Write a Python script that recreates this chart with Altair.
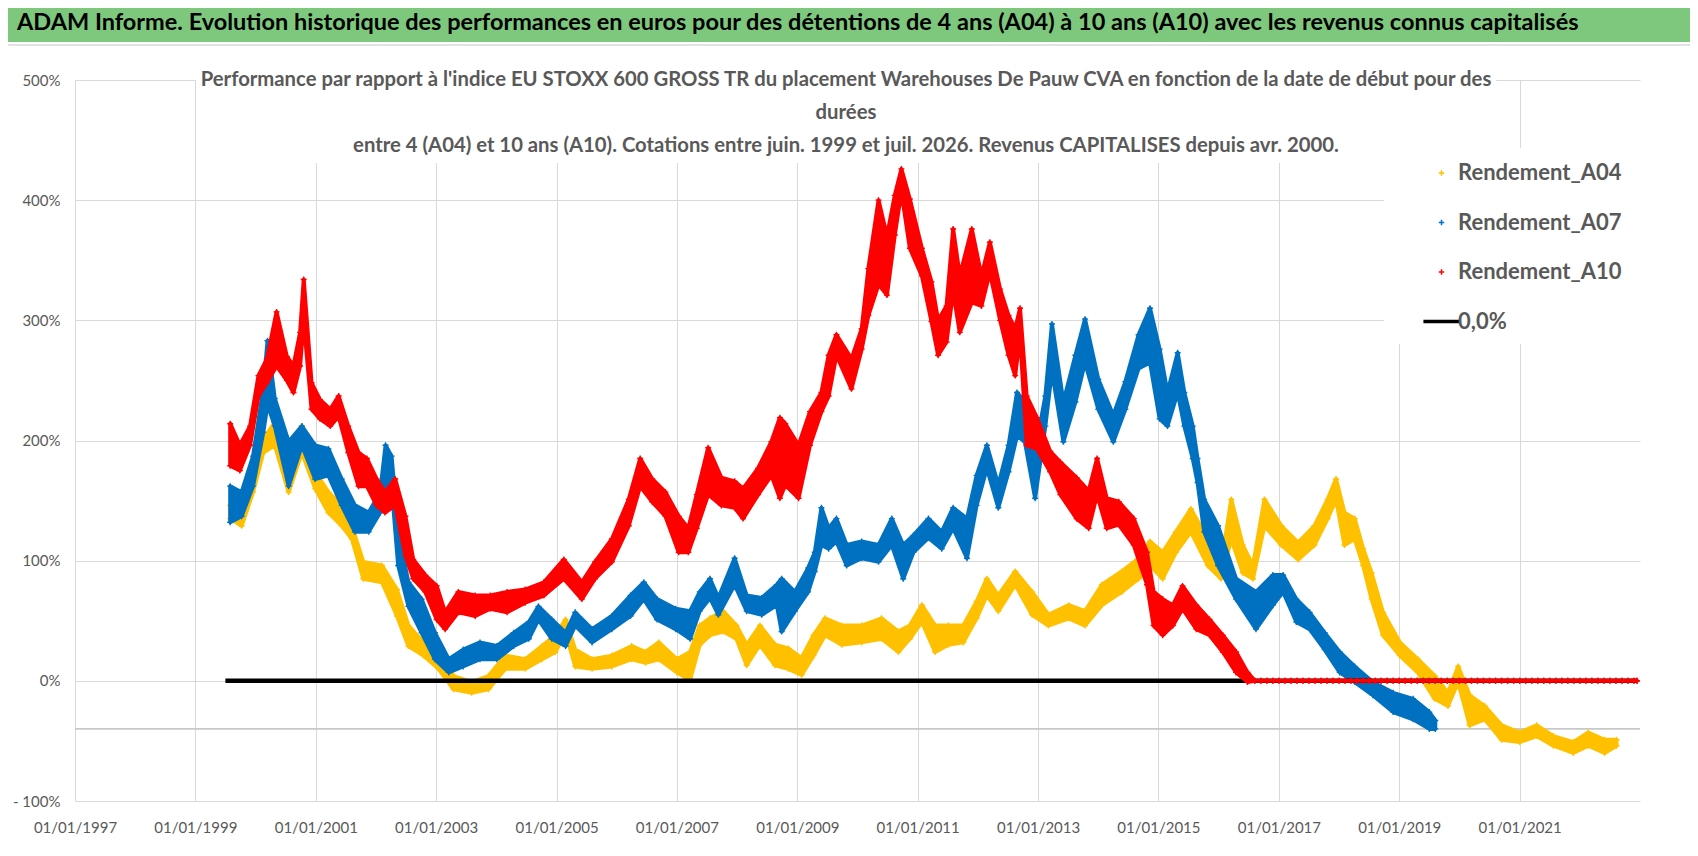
import altair as alt
import pandas as pd

FONT = "Lato, Carlito, Calibri, Open Sans, sans-serif"
GREY = "#595959"

SERIES = ["Rendement_A04", "Rendement_A07", "Rendement_A10", "0,0%"]
COLORS = ["#FFC000", "#0070C0", "#FF0000", "#000000"]
PLUS = "M-1,0H1M0,-1V1"
DASH = "M-6.6,-0.4H6.6M-6.6,0H6.6M-6.6,0.4H6.6"
SHAPES = [PLUS, PLUS, PLUS, DASH]

# ---- Rendement_A04 (decimal year, low / high of the plotted cloud, %) ----
A04_YEAR = [1999.58, 1999.77, 1999.96, 2000.13, 2000.32, 2000.55, 2000.77, 2000.99, 2001.21, 2001.43,
            2001.6, 2001.79, 2002.1, 2002.35, 2002.54, 2002.79, 2003.04, 2003.29, 2003.59, 2003.87,
            2004.15, 2004.48, 2004.76, 2004.98, 2005.15, 2005.31, 2005.59, 2005.92, 2006.25, 2006.48,
            2006.7, 2007.0,
            2007.22, 2007.38, 2007.55, 2007.77, 2007.99, 2008.16, 2008.38, 2008.63, 2008.85, 2009.07,
            2009.27, 2009.46, 2009.74, 2010.07, 2010.4, 2010.68, 2010.87, 2011.07, 2011.29, 2011.51,
            2011.76, 2011.98, 2012.15, 2012.34, 2012.62, 2012.9, 2013.17, 2013.51, 2013.78, 2014.06,
            2014.39, 2014.67, 2014.86,
            2015.07, 2015.29, 2015.54, 2015.82, 2016.04, 2016.21, 2016.4, 2016.57, 2016.76, 2017.04,
            2017.32, 2017.59, 2017.81, 2017.95, 2018.09, 2018.26, 2018.4, 2018.54, 2018.73, 2019.01,
            2019.31, 2019.59, 2019.81, 2019.98, 2020.17, 2020.42, 2020.7, 2021.0, 2021.28, 2021.56,
            2021.89, 2022.14, 2022.41, 2022.61]
A04_LO = [135, 129, 157, 190, 196, 157, 190, 160, 140, 129,
          118, 85, 82, 54, 29, 21, 10, -7, -10, -7,
          10, 10, 18, 24, 40, 12, 10, 12, 18, 15,
          18, 7,
          1, 30, 38, 41, 35, 13, 30, 13, 10, 5,
          21, 38, 30, 32, 35, 24, 35, 49, 24, 30,
          32, 52, 71, 58, 80, 55, 46, 52, 46, 63,
          74, 85, 96,
          85, 107, 124, 96, 85, 118, 90, 85, 129, 113,
          101, 113, 135, 151, 113, 118, 96, 68, 38, 21,
          7, -15, -21, -1, -37, -32, -49, -51, -46, -54,
          -60, -54, -60, -54]
A04_HI = [146, 146, 168, 201, 215, 196, 212, 174, 157, 146,
          129, 99, 96, 76, 46, 32, 24, 4, -1, 4,
          21, 18, 29, 38, 51, 26, 18, 21, 29, 24,
          32, 18,
          24, 46, 52, 58, 46, 30, 46, 30, 27, 19,
          38, 52, 46, 46, 52, 41, 46, 63, 46, 46,
          46, 66, 85, 71, 91, 74, 55, 63, 58, 80,
          91, 102, 116,
          107, 124, 143, 118, 96, 151, 113, 96, 151, 129,
          115, 129, 151, 168, 140, 135, 110, 90, 57, 32,
          18, 4, -10, 12, -12, -21, -37, -43, -37, -46,
          -51, -43, -49, -49]

# ---- Rendement_A07 ----
A07_YEAR = [1999.58, 1999.77, 1999.96, 2000.13, 2000.2, 2000.32, 2000.55, 2000.77, 2000.99, 2001.21,
            2001.43, 2001.65, 2001.88, 2002.07, 2002.16, 2002.26, 2002.37, 2002.54, 2002.76, 2002.98,
            2003.21, 2003.45, 2003.73, 2004.01, 2004.29, 2004.54, 2004.7, 2004.92, 2005.15, 2005.31,
            2005.59, 2005.92, 2006.23, 2006.45, 2006.67, 2006.98,
            2007.22, 2007.38, 2007.55, 2007.69, 2007.96, 2008.16, 2008.41, 2008.66, 2008.74, 2008.96,
            2009.18, 2009.29, 2009.4, 2009.52, 2009.65, 2009.82, 2010.07, 2010.35, 2010.57, 2010.76,
            2010.93, 2011.18, 2011.4, 2011.59, 2011.82, 2011.98, 2012.15, 2012.34, 2012.51, 2012.65,
            2012.78, 2012.95, 2013.12, 2013.23, 2013.42, 2013.62, 2013.78, 2014.0, 2014.25, 2014.45,
            2014.67, 2014.86,
            2015.02, 2015.15, 2015.32, 2015.43, 2015.57, 2015.65, 2015.76, 2015.99, 2016.29, 2016.62,
            2016.9, 2017.07, 2017.29, 2017.51, 2017.76, 2018.01, 2018.26, 2018.56, 2018.9, 2019.23,
            2019.5, 2019.6]
A07_LO = [132, 137, 162, 207, 230, 212, 162, 196, 168, 171,
          146, 124, 124, 140, 162, 162, 96, 62, 40, 18,
          7, 12, 18, 18, 29, 35, 51, 35, 29, 46,
          32, 43, 54, 68, 51, 43,
          35, 58, 69, 55, 80, 58, 55, 63, 41, 58,
          74, 91, 113, 110, 116, 96, 102, 99, 113, 85,
          107, 119, 110, 127, 102, 146, 177, 144, 174, 204,
          199, 152, 212, 258, 199, 232, 265, 226, 199, 226,
          260, 265,
          218, 212, 240, 212, 185, 165, 124, 96, 68, 43,
          63, 74, 49, 43, 26, 7, -1, -12, -26, -32,
          -40, -40]
A07_HI = [162, 157, 187, 243, 283, 235, 199, 212, 196, 193,
          168, 146, 140, 157, 196, 187, 124, 82, 68, 40,
          18, 26, 32, 29, 40, 49, 62, 51, 40, 57,
          43, 54, 71, 82, 68, 60,
          58, 74, 85, 69, 102, 71, 69, 80, 85, 74,
          94, 107, 144, 127, 135, 113, 116, 113, 135, 113,
          121, 135, 124, 144, 135, 171, 196, 163, 196, 240,
          232, 191, 237, 297, 232, 271, 301, 251, 221, 249,
          288, 310,
          276, 240, 273, 240, 212, 185, 151, 129, 85, 74,
          88, 88, 68, 57, 40, 24, 12, -1, -10, -15,
          -26, -33]

# ---- Rendement_A10 ----
A10_YEAR = [1999.58, 1999.74, 1999.91, 2000.05, 2000.19, 2000.35, 2000.52, 2000.63, 2000.74, 2000.8,
            2000.93, 2001.07, 2001.24, 2001.38, 2001.54, 2001.71, 2001.85, 2002.01, 2002.15, 2002.32,
            2002.49, 2002.62, 2002.82, 2003.01, 2003.15, 2003.37, 2003.65, 2003.9, 2004.18, 2004.48,
            2004.79, 2005.12, 2005.42, 2005.64, 2005.92, 2006.2, 2006.39, 2006.59, 2006.81, 2007.03,
            2007.19, 2007.33, 2007.52, 2007.74, 2007.96, 2008.1, 2008.35, 2008.57, 2008.71, 2008.8,
            2009.02, 2009.21, 2009.4, 2009.52, 2009.65, 2009.9, 2010.07, 2010.18, 2010.35, 2010.49,
            2010.62, 2010.73, 2010.87, 2011.07, 2011.23, 2011.34, 2011.48, 2011.59, 2011.7, 2011.9,
            2012.06, 2012.2, 2012.37, 2012.51, 2012.62, 2012.7, 2012.81, 2012.98, 2013.2, 2013.37,
            2013.64, 2013.84, 2013.98, 2014.14, 2014.34, 2014.59, 2014.81, 2014.92,
            2015.07, 2015.24, 2015.4, 2015.63, 2015.85, 2016.07, 2016.29, 2016.48]
A10_LO = [179, 175, 196, 237, 248, 262, 250, 240, 262, 300,
          226, 218, 212, 220, 190, 162, 162, 146, 140, 146,
          104, 85, 74, 51, 43, 57, 54, 60, 57, 65,
          71, 85, 68, 85, 99, 129, 162, 149, 137, 107,
          107, 127, 155, 146, 144, 135, 155, 171, 152, 163,
          152, 196, 224, 237, 271, 243, 276, 304, 330, 321,
          371, 407, 360, 337, 299, 271, 282, 324, 290, 315,
          312, 340, 300, 271, 254, 288, 196, 193, 174, 155,
          135, 127, 155, 127, 130, 113, 80, 46,
          38, 46, 60, 43, 38, 24, 7, -1]
A10_HI = [214, 196, 212, 254, 268, 307, 270, 262, 290, 334,
          248, 234, 226, 237, 212, 190, 185, 168, 157, 168,
          137, 101, 88, 79, 57, 74, 71, 71, 74, 76,
          82, 101, 82, 99, 118, 151, 185, 168, 157, 137,
          127, 155, 194, 169, 166, 160, 177, 199, 219, 214,
          196, 224, 240, 271, 288, 268, 293, 343, 400, 370,
          404, 426, 401, 360, 332, 300, 312, 376, 337, 376,
          337, 365, 326, 304, 293, 310, 237, 219, 191, 182,
          169, 158, 185, 152, 149, 135, 107, 74,
          68, 63, 79, 63, 51, 38, 24, 7]
# A10 flat at 0 % from mid-2016 to the end (dense row of markers on the 0 line)
A10_FLAT_YEAR = [2016.6, 2016.7, 2016.8, 2016.9, 2017.0, 2017.1, 2017.2, 2017.3, 2017.4, 2017.5,
                 2017.6, 2017.7, 2017.8, 2017.9, 2018.0, 2018.1, 2018.2, 2018.3, 2018.4, 2018.5,
                 2018.6, 2018.7, 2018.8, 2018.9, 2019.0, 2019.1, 2019.2, 2019.3, 2019.4, 2019.5,
                 2019.6, 2019.7, 2019.8, 2019.9, 2020.0, 2020.1, 2020.2, 2020.3, 2020.4, 2020.5,
                 2020.6, 2020.7, 2020.8, 2020.9, 2021.0, 2021.1, 2021.2, 2021.3, 2021.4, 2021.5,
                 2021.6, 2021.7, 2021.8, 2021.9, 2022.0, 2022.1, 2022.2, 2022.3, 2022.4, 2022.5,
                 2022.6, 2022.7, 2022.8, 2022.9, 2022.95]
A10_FLAT_VAL = [0, 0, 0, 0, 0, 0, 0, 0, 0, 0,
                0, 0, 0, 0, 0, 0, 0, 0, 0, 0,
                0, 0, 0, 0, 0, 0, 0, 0, 0, 0,
                0, 0, 0, 0, 0, 0, 0, 0, 0, 0,
                0, 0, 0, 0, 0, 0, 0, 0, 0, 0,
                0, 0, 0, 0, 0, 0, 0, 0, 0, 0,
                0, 0, 0, 0, 0]

# ---- 0,0% reference line ----
ZERO_YEAR = [1999.5, 2022.95]
ZERO_VAL = [0, 0]

TITLE = ("ADAM Informe. Evolution historique des performances en euros pour des détentions "
         "de 4 ans (A04) à 10 ans (A10) avec les revenus connus capitalisés")
SUB1 = ("Performance par rapport à l'indice EU STOXX 600 GROSS TR  du placement Warehouses De Pauw CVA "
        "en fonction de la date de début pour des")
SUB2 = "durées"
SUB3 = ("entre 4 (A04) et 10 ans (A10). Cotations entre juin. 1999 et juil. 2026. "
        "Revenus CAPITALISES depuis avr. 2000.")


def to_date(y):
    yi = int(y)
    start = pd.Timestamp(yi, 1, 1)
    end = pd.Timestamp(yi + 1, 1, 1)
    return (start + (end - start) * (y - yi)).strftime("%Y-%m-%dT%H:%M:%S")


def band_df(years, lo, hi):
    return pd.DataFrame({"date": [to_date(y) for y in years], "lo": lo, "hi": hi})


def point_df(name, years, lo, hi):
    d = [to_date(y) for y in years]
    return pd.DataFrame({"series": [name] * (2 * len(years)), "date": d + d, "value": list(lo) + list(hi)})


X = alt.X("date:T",
          scale=alt.Scale(domain=[alt.DateTime(year=1997, month=1, date=1),
                                  alt.DateTime(year=2023, month=1, date=1)]),
          axis=alt.Axis(values=[alt.DateTime(year=y, month=1, date=1) for y in range(1997, 2022, 2)],
                        format="%d/%m/%Y", title=None, grid=True, gridColor="#D9D9D9",
                        domain=False, ticks=False, labelPadding=19, labelFontSize=15,
                        labelColor=GREY, labelFont=FONT, labelFlush=False, labelOverlap=False))
YSCALE = alt.Scale(domain=[-100, 500], nice=False, zero=False)
YAXIS = alt.Axis(values=[-100, 0, 100, 200, 300, 400, 500], title=None, grid=True, gridColor="#D9D9D9",
                 domain=False, ticks=False, labelPadding=15, labelFontSize=15, labelColor=GREY,
                 labelFont=FONT,
                 labelExpr="datum.value < 0 ? '- ' + abs(datum.value) + '%' : datum.value + '%'")

color_enc = alt.Color("series:N", scale=alt.Scale(domain=SERIES, range=COLORS), legend=alt.Legend(title=None))
shape_enc = alt.Shape("series:N", scale=alt.Scale(domain=SERIES, range=SHAPES), legend=alt.Legend(title=None))

one = pd.DataFrame({"k": [0]})


def band_layer(years, lo, hi, col):
    return alt.Chart(band_df(years, lo, hi)).mark_area(
        color=col, stroke=col, strokeWidth=4, strokeJoin="round", opacity=1
    ).encode(x=X, y=alt.Y("lo:Q", scale=YSCALE, axis=YAXIS), y2="hi:Q")


def point_layer(name, years, lo, hi):
    return alt.Chart(point_df(name, years, lo, hi)).mark_point(
        filled=False, size=36, strokeWidth=1.4, opacity=1
    ).encode(x=X, y=alt.Y("value:Q", scale=YSCALE, axis=YAXIS), color=color_enc, shape=shape_enc)


A10_ALL_YEAR = A10_YEAR + A10_FLAT_YEAR
A10_ALL_LO = A10_LO + A10_FLAT_VAL
A10_ALL_HI = A10_HI + A10_FLAT_VAL

title_bar = alt.Chart(one).mark_rect(color="#7EC87E").encode(
    x=alt.value(-67), x2=alt.value(1615), y=alt.value(-72), y2=alt.value(-38))
under_bar = alt.Chart(one).mark_rule(color="#D9D9D9", strokeWidth=1.5).encode(
    x=alt.value(-67), x2=alt.value(1615), y=alt.value(-35))
title_txt = alt.Chart(one).mark_text(text=TITLE, font=FONT, fontSize=23.5, fontWeight="bold",
                                      color="black", align="left", baseline="middle").encode(
    x=alt.value(-58), y=alt.value(-57))
sub_box = alt.Chart(one).mark_rect(color="white").encode(
    x=alt.value(121), x2=alt.value(1421), y=alt.value(-12), y2=alt.value(83))
leg_box = alt.Chart(one).mark_rect(color="white").encode(
    x=alt.value(1309), x2=alt.value(1566), y=alt.value(68), y2=alt.value(264))
sub_txt = [alt.Chart(one).mark_text(text=t, font=FONT, fontSize=20.3, fontWeight="bold", color=GREY,
                                    align="center", baseline="middle").encode(x=alt.value(771), y=alt.value(yy))
           for t, yy in [(SUB1, 0), (SUB2, 33), (SUB3, 66)]]
axis_rule = alt.Chart(one).mark_rule(color="#C8C8C8", strokeWidth=1.8).encode(
    y=alt.datum(-40, scale=YSCALE), x=alt.value(0), x2=alt.value(1565))

zero_line = alt.Chart(pd.DataFrame({"date": [to_date(y) for y in ZERO_YEAR], "v": ZERO_VAL})).mark_line(
    color="black", strokeWidth=4.5).encode(x=X, y=alt.Y("v:Q", scale=YSCALE, axis=YAXIS))

layers = [title_bar, under_bar, title_txt, axis_rule,
          band_layer(A04_YEAR, A04_LO, A04_HI, COLORS[0]),
          point_layer(SERIES[0], A04_YEAR, A04_LO, A04_HI),
          band_layer(A07_YEAR, A07_LO, A07_HI, COLORS[1]),
          point_layer(SERIES[1], A07_YEAR, A07_LO, A07_HI),
          zero_line,
          band_layer(A10_ALL_YEAR, A10_ALL_LO, A10_ALL_HI, COLORS[2]),
          point_layer(SERIES[2], A10_ALL_YEAR, A10_ALL_LO, A10_ALL_HI),
          sub_box, leg_box] + sub_txt

chart = alt.layer(*layers).properties(
    width=1565, height=721,
    padding={"left": 67, "top": 72, "right": 50, "bottom": 46},
    autosize=alt.AutoSizeParams(type="none"),
    background="white",
).configure_view(stroke=None).configure_legend(
    orient="none", legendX=1355.5, legendY=82, padding=0,
    labelFont=FONT, labelFontSize=22, labelFontWeight="bold", labelColor=GREY, labelLimit=0,
    labelOffset=5.5, rowPadding=27.5, symbolSize=30, symbolStrokeWidth=1.5,
)

chart.save("out.html", embed_options={"renderer": "svg", "actions": False})
